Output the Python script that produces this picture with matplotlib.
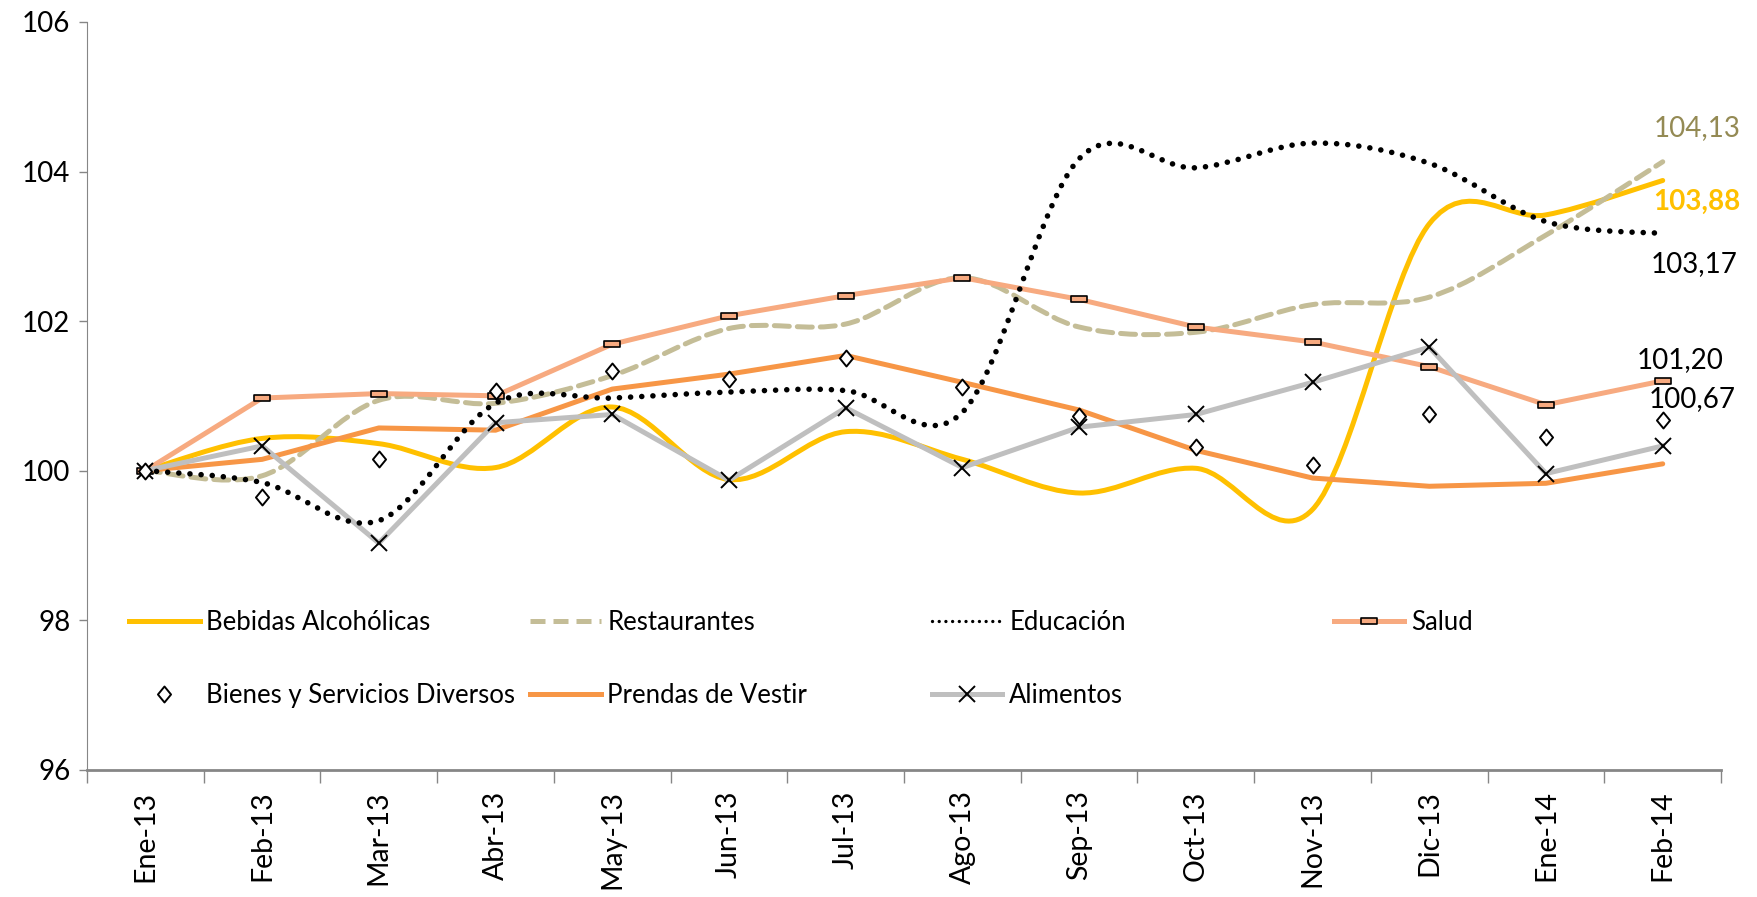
import matplotlib
matplotlib.use('Agg')
import matplotlib.pyplot as plt
from matplotlib.path import Path
from matplotlib.patches import PathPatch
from matplotlib.lines import Line2D
import numpy as np

plt.rcParams['font.family'] = ['Lato', 'DejaVu Sans']

# data
months = ['Ene-13', 'Feb-13', 'Mar-13', 'Abr-13', 'May-13', 'Jun-13', 'Jul-13',
          'Ago-13', 'Sep-13', 'Oct-13', 'Nov-13', 'Dic-13', 'Ene-14', 'Feb-14']
bebidas = [100, 100.43, 100.36, 100.04, 100.85, 99.88, 100.52,
           100.15, 99.70, 100.03, 99.48, 103.30, 103.42, 103.88]
restaurantes = [100, 99.93, 100.94, 100.90, 101.27, 101.90, 101.96,
                102.58, 101.92, 101.85, 102.22, 102.32, 103.15, 104.13]
educacion = [100, 99.84, 99.33, 100.90, 100.97, 101.05, 101.07,
             100.78, 104.17, 104.05, 104.38, 104.11, 103.33, 103.17]
salud = [100, 100.97, 101.03, 101.00, 101.69, 102.07, 102.34,
         102.58, 102.29, 101.92, 101.72, 101.39, 100.88, 101.20]
bienes = [100, 99.64, 100.16, 101.06, 101.33, 101.23, 101.50,
          101.12, 100.73, 100.31, 100.07, 100.75, 100.45, 100.67]
prendas = [100, 100.15, 100.57, 100.54, 101.09, 101.29, 101.54,
           101.18, 100.81, 100.27, 99.90, 99.79, 99.83, 100.09]
alimentos = [100, 100.33, 99.03, 100.64, 100.75, 99.87, 100.84,
             100.04, 100.58, 100.75, 101.18, 101.65, 99.96, 100.33]

c_beb = '#FFC000'
c_res = '#C4BD97'
c_edu = '#000000'
c_sal = '#F7AA80'
c_pre = '#F79646'
c_ali = '#BFBFBF'


def smooth_path(xs, ys):
    # bezier curve through the points, like excel's smoothed line
    pts = np.column_stack([xs, ys]).astype(float)
    n = len(pts)
    verts = [pts[0]]
    codes = [Path.MOVETO]
    for i in range(n - 1):
        p0 = pts[i - 1] if i > 0 else pts[i]
        p1 = pts[i]
        p2 = pts[i + 1]
        p3 = pts[i + 2] if i + 2 < n else pts[i + 1]
        verts += [p1 + (p2 - p0) / 6, p2 - (p3 - p1) / 6, p2]
        codes += [Path.CURVE4] * 3
    return Path(verts, codes)


fig = plt.figure(figsize=(17.58, 8.97), dpi=100)
ax = fig.add_axes([0.0495, 0.142, 0.9295, 0.8335])
x = np.arange(len(months))

lw = 3.6
dots = (0, (0.01, 2.0))
dashes = (0, (3.0, 1.6))
ax.add_patch(PathPatch(smooth_path(x, bebidas), fill=False, edgecolor=c_beb, lw=lw,
                       capstyle='round', zorder=3))
ax.add_patch(PathPatch(smooth_path(x, restaurantes), fill=False, edgecolor=c_res, lw=lw,
                       linestyle=dashes, capstyle='round', zorder=3))
ax.add_patch(PathPatch(smooth_path(x, educacion), fill=False, edgecolor=c_edu, lw=4.0,
                       linestyle=dots, capstyle='round', zorder=4))

rect = Path([(-1, -0.38), (1, -0.38), (1, 0.38), (-1, 0.38), (-1, -0.38)],
            [Path.MOVETO, Path.LINETO, Path.LINETO, Path.LINETO, Path.CLOSEPOLY])
diamond = Path([(0, 1), (0.82, 0), (0, -1), (-0.82, 0), (0, 1)],
               [Path.MOVETO, Path.LINETO, Path.LINETO, Path.LINETO, Path.CLOSEPOLY])
ax.plot(x, salud, color=c_sal, lw=lw, marker=rect, markersize=12,
        markerfacecolor=c_sal, markeredgecolor='black', markeredgewidth=1.2, zorder=3)
ax.plot(x, prendas, color=c_pre, lw=lw, solid_capstyle='round', zorder=3)
ax.plot(x, alimentos, color=c_ali, lw=lw, marker='x', markersize=11,
        markeredgecolor='black', markeredgewidth=1.4, zorder=3)
ax.plot(x, bienes, linestyle='none', marker=diamond, markersize=11.5,
        markerfacecolor='white', markeredgecolor='black', markeredgewidth=1.4, zorder=5)

# end labels
fs_lab = 20
ax.annotate('104,13', (x[-1], restaurantes[-1]), xytext=(34, 34), textcoords='offset pixels',
            ha='center', va='center', fontsize=fs_lab, color='#948A54')
ax.annotate('103,88', (x[-1], bebidas[-1]), xytext=(34, -21), textcoords='offset pixels',
            ha='center', va='center', fontsize=fs_lab, color=c_beb, fontweight='bold')
ax.annotate('103,17', (x[-1], educacion[-1]), xytext=(31, -30), textcoords='offset pixels',
            ha='center', va='center', fontsize=fs_lab, color='black')
ax.annotate('101,20', (x[-1], salud[-1]), xytext=(17, 21), textcoords='offset pixels',
            ha='center', va='center', fontsize=fs_lab, color='black')
ax.annotate('100,67', (x[-1], bienes[-1]), xytext=(29, 21), textcoords='offset pixels',
            ha='center', va='center', fontsize=fs_lab, color='black')

ax.set_xlim(-0.5, len(months) - 0.5)
ax.set_ylim(96, 106)
ax.set_yticks([96, 98, 100, 102, 104, 106])
ax.set_xticks(np.arange(-0.5, len(months), 1.0))
ax.set_xticklabels([])
ax.set_xticks(x, minor=True)
ax.set_xticklabels(months, minor=True, rotation=90, fontsize=20.5)
ax.tick_params(axis='x', which='major', length=9, width=1, color='#868686', direction='out')
ax.tick_params(axis='x', which='minor', length=0, pad=15)
ax.tick_params(axis='y', length=6, width=1, color='#868686', labelsize=20, pad=6)
for s in ['top', 'right']:
    ax.spines[s].set_visible(False)
ax.spines['left'].set_color('#868686')
ax.spines['bottom'].set_color('#868686')
ax.spines['bottom'].set_linewidth(2)

# legend, laid out like excel in two rows
h_beb = Line2D([], [], color=c_beb, lw=lw)
h_res = Line2D([], [], color=c_res, lw=lw, linestyle=dashes)
h_edu = Line2D([], [], color=c_edu, lw=2.4, linestyle=(0, (0.01, 2.0)), dash_capstyle='round')
h_sal = Line2D([], [], color=c_sal, lw=lw, marker=rect, markersize=12,
               markerfacecolor=c_sal, markeredgecolor='black', markeredgewidth=1.2)
h_bie = Line2D([], [], linestyle='none', marker=diamond, markersize=11.5,
               markerfacecolor='white', markeredgecolor='black', markeredgewidth=1.4)
h_pre = Line2D([], [], color=c_pre, lw=lw)
h_ali = Line2D([], [], color=c_ali, lw=lw, marker='x', markersize=11,
               markeredgecolor='black', markeredgewidth=1.4)

columns = [([h_beb, h_bie], ['Bebidas Alcohólicas', 'Bienes y Servicios Diversos']),
           ([h_res, h_pre], ['Restaurantes', 'Prendas de Vestir']),
           ([h_edu, h_ali], ['Educación', 'Alimentos']),
           ([h_sal], ['Salud'])]
col_x = [0.0257, 0.271, 0.517, 0.763]
for cx, (hs, ls) in zip(col_x, columns):
    leg = ax.legend(hs, ls, loc='upper left', bbox_to_anchor=(cx, 0.2135), frameon=False,
                    fontsize=18.5, handlelength=2.75, handletextpad=0.26, labelspacing=1.87,
                    borderpad=0, borderaxespad=0)
    ax.add_artist(leg)
ax.legend_ = None  # each column is already added once

fig.savefig('out.png', dpi=100)
